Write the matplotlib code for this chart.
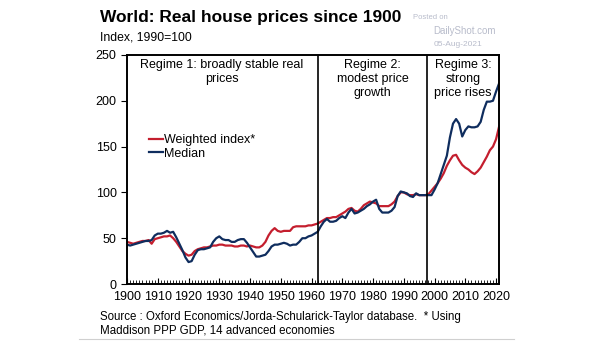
import matplotlib.pyplot as plt
import numpy as np

plt.rcParams["font.family"] = ["Liberation Sans", "DejaVu Sans"]

years = np.arange(1900, 2022)

weighted = [
    46, 45, 44, 45, 46, 47, 47, 48, 44, 49,
    50, 51, 52, 52, 53, 50, 46, 41, 36, 33,
    31, 32, 36, 38, 39, 40, 40, 41, 42, 42,
    43, 43, 42, 42, 42, 41, 41, 42, 42, 41,
    42, 41, 40, 40, 42, 46, 53, 58, 61, 58,
    57, 58, 58, 58, 62, 63, 63, 63, 63, 64,
    64, 65, 66, 68, 70, 72, 72, 73, 73, 75,
    77, 79, 82, 83, 80, 79, 82, 86, 88, 90,
    89, 88, 85, 85, 85, 85, 87, 90, 96, 100,
    100, 98, 97, 97, 98, 97, 97, 97, 98, 102,
    106, 110, 115, 121, 129, 135, 140, 141, 135, 130,
    127, 125, 122, 120, 123, 127, 133, 139, 146, 150,
    158, 172,
]

median = [
    43, 42, 43, 44, 45, 46, 47, 47, 48, 53,
    55, 55, 56, 58, 56, 57, 51, 44, 37, 29,
    24, 25, 32, 37, 38, 38, 39, 40, 46, 50,
    52, 49, 48, 48, 46, 46, 48, 49, 49, 45,
    40, 35, 30, 30, 31, 32, 36, 41, 43, 43,
    44, 45, 44, 42, 43, 43, 46, 50, 50, 52,
    53, 55, 57, 63, 68, 71, 68, 68, 69, 72,
    74, 72, 78, 82, 77, 78, 80, 82, 85, 87,
    90, 92, 82, 78, 78, 78, 80, 84, 96, 101,
    100, 99, 96, 95, 99, 97, 97, 97, 97, 97,
    103, 110, 120, 130, 140, 160, 175, 180, 175, 161,
    168, 172, 171, 171, 172, 177, 190, 199, 199, 200,
    210, 219,
]

regime_breaks = [1962, 1997.5]
regime_labels = [
    (1930.8, "Regime 1: broadly stable real\nprices"),
    (1979.8, "Regime 2:\nmodest price\ngrowth"),
    (2009.3, "Regime 3:\nstrong\nprice rises"),
]

fig = plt.figure(figsize=(6.05, 3.41), dpi=100)
ax = fig.add_axes([0.21, 0.167, 0.615, 0.672])

ax.plot(years, weighted, color="#c41e2e", lw=1.6, label="Weighted index*")
ax.plot(years, median, color="#0f2d5e", lw=1.6, label="Median")

for x in regime_breaks:
    ax.axvline(x, color="black", lw=1.2)
for x, txt in regime_labels:
    ax.text(x, 245, txt, ha="center", va="top", fontsize=9, linespacing=1.2)

ax.set_xlim(1900, 2021)
ax.set_ylim(0, 250)
ax.set_xticks(np.arange(1900, 2021, 10))
ax.set_xticks(np.arange(1900, 2022, 1), minor=True)
ax.set_yticks(np.arange(0, 251, 50))
ax.tick_params(axis="x", which="both", direction="in", length=4, labelsize=9, pad=5)
ax.tick_params(axis="x", which="minor", length=3)
ax.tick_params(axis="y", direction="out", length=4, labelsize=9)
for s in ax.spines.values():
    s.set_linewidth(1.4)

ax.legend(loc="upper left", bbox_to_anchor=(0.042, 0.68), frameon=False, fontsize=9,
          handlelength=1.1, handletextpad=0.1, labelspacing=0.1, borderpad=0)

fig.text(0.165, 0.95, "World: Real house prices since 1900", fontsize=12.5,
         fontweight="bold", va="center")
fig.text(0.165, 0.89, "Index, 1990=100", fontsize=8.8, va="center")
fig.text(0.683, 0.95, "Posted on", fontsize=5.5, color="#b8bccb", va="center")
fig.text(0.716, 0.908, "DailyShot.com", fontsize=7, color="#b8bccb", va="center")
fig.text(0.716, 0.869, "05-Aug-2021", fontsize=6, color="#b8bccb", va="center")
fig.text(0.165, 0.05, "Source : Oxford Economics/Jorda-Schularick-Taylor database.  * Using\n"
         "Maddison PPP GDP, 14 advanced economies", fontsize=8.3, va="center",
         linespacing=1.15)
fig.add_artist(plt.Line2D([0.13, 0.85], [0.005, 0.005], color="#d0d0d0", lw=0.8))

fig.savefig("out.png", dpi=100)
